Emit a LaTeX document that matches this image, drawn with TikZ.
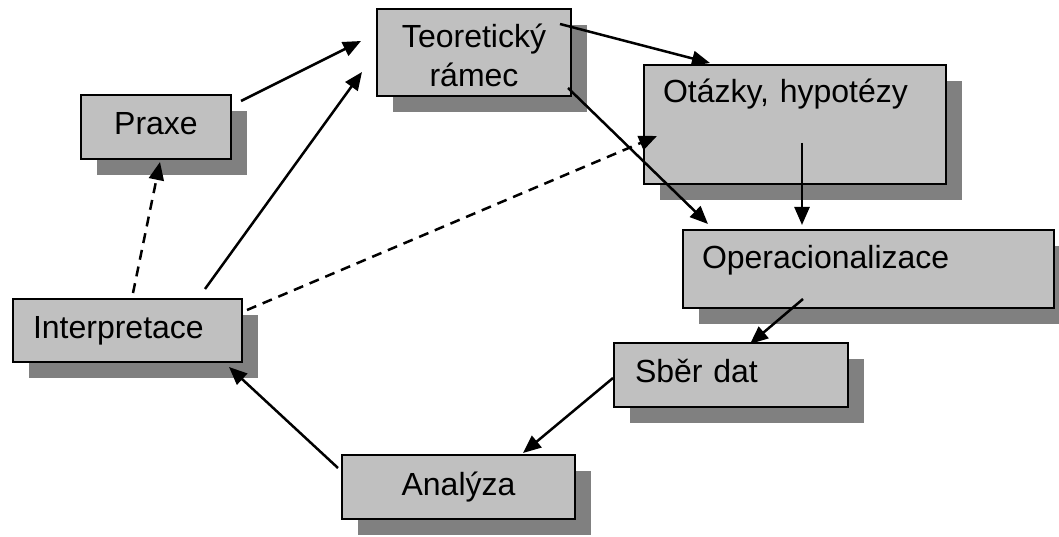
\documentclass[tikz,border=0pt]{standalone}
\usepackage{fontspec}
\setmainfont{Liberation Sans}
\usetikzlibrary{arrows.meta,shadows}
\definecolor{boxgray}{RGB}{192,192,192}
\definecolor{shadegray}{RGB}{128,128,128}

\begin{document}
\begin{tikzpicture}[x=1pt, y=-1pt,
    every node/.style={font=\fontsize{32}{39}\selectfont},
    box/.style={draw, line width=2pt, fill=boxgray, anchor=north west, inner ysep=0pt,
        drop shadow={shadow xshift=16pt, shadow yshift=-16pt, fill=shadegray, opacity=1}},
    flow/.style={line width=2.5pt, -{Triangle[length=18pt, width=15pt]}},
    hint/.style={flow, dash pattern=on 10pt off 7pt}]
        \useasboundingbox (0,0) rectangle (1059,537);

        % --- Draw boxes ---
        \node[box, align=center, inner xsep=0pt, text width=150pt, text height=40pt, text depth=24pt] (praxe) at (80,94) {Praxe};
        \node[box, align=center, inner xsep=0pt, text width=194pt, text height=39pt, text depth=48pt] (teor) at (376,8) {Teoretický\\rámec};
        \node[box, align=left, inner xsep=19pt, text width=264pt, text height=38pt, text depth=81pt] (otazky) at (643,64) {Otázky, hypotézy};
        \node[box, align=left, inner xsep=19pt, text width=333pt, text height=38pt, text depth=40pt] (oper) at (682,229) {Operacionalizace};
        \node[box, align=left, inner xsep=20pt, text width=189pt, text height=39pt, text depth=24pt] (interp) at (12,298) {Interpretace};
        \node[box, align=left, inner xsep=21pt, text width=192pt, text height=39pt, text depth=25pt] (sber) at (613,342) {Sběr dat};
        \node[box, align=center, inner xsep=0pt, text width=233pt, text height=40pt, text depth=24pt] (analyza) at (341,454) {Analýza};
        % ---

        % --- Draw arrows between boxes ---
        \draw[flow] ([shift={(9,7)}]praxe.north east) -- ([shift={(-15,33)}]teor.north west);
        \draw[flow] ([shift={(-38,-9)}]interp.north east) -- ([shift={(-14,64)}]teor.north west);
        \draw[hint] ([shift={(121,-5)}]interp.north west) -- ([shift={(4,2)}]praxe.south);
        \draw[hint] ([shift={(4,12)}]interp.north east) -- ([shift={(14,72)}]otazky.north west);
        \draw[flow] ([shift={(-12,16)}]teor.north east) -- ([shift={(67,-1)}]otazky.north west);
        \draw[flow] ([shift={(-4,-9)}]teor.south east) -- ([shift={(26,-5)}]oper.north west);
        \draw[flow] ([shift={(159,79)}]otazky.north west) -- ([shift={(120,-4)}]oper.north west);
        \draw[flow] ([shift={(121,-10)}]oper.south west) -- ([shift={(137,2)}]sber.north west);
        \draw[flow] ([shift={(0,36)}]sber.north west) -- ([shift={(182,-1)}]analyza.north west);
        \draw[flow] ([shift={(-3,14)}]analyza.north west) -- ([shift={(-14,4)}]interp.south east);
        % ---
\end{tikzpicture}
\end{document}
